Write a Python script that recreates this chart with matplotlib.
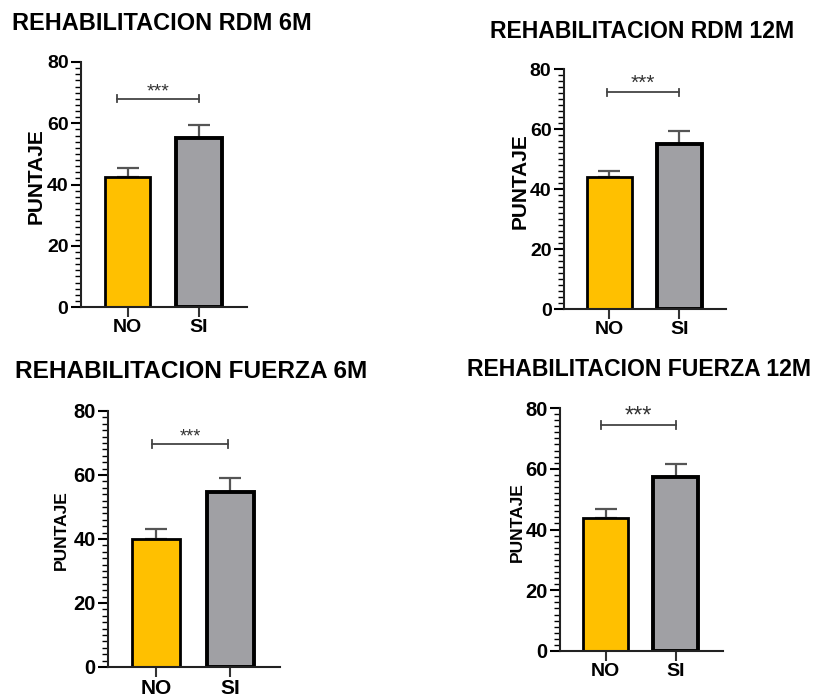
import matplotlib
matplotlib.use("Agg")
import matplotlib.pyplot as plt
from matplotlib.ticker import MultipleLocator

plt.rcParams['font.family'] = ['Liberation Sans', 'DejaVu Sans']

W, H = 818, 697

groups = ["NO", "SI"]
titles = ["REHABILITACION RDM 6M", "REHABILITACION RDM 12M",
          "REHABILITACION FUERZA 6M", "REHABILITACION FUERZA 12M"]
means_no = [42.5, 44.0, 40.0, 43.8]
means_si = [55.2, 55.0, 54.7, 57.3]
err_no = [2.9, 2.0, 3.1, 2.9]
err_si = [4.2, 4.3, 4.3, 4.3]
sig_y = [68, 72.3, 69.7, 74.4]
sig_text = ["***", "***", "***", "***"]

colors = ["#FFC000", "#A0A0A4"]

# panel layout in pixels: axes box (x0, y0, x1, y1), title pos, ylabel pos, font sizes
panels = [
    dict(box=(81, 62, 247, 307), title=(12, 24, 16.9), ylab=(36, 176, 15),
         tick=14, xtick=14, star=14, br=(-0.14, 1.0)),
    dict(box=(564, 69, 726, 309), title=(490, 32, 16.6), ylab=(520, 181, 15),
         tick=14, xtick=14, star=15, br=(-0.04, 1.0)),
    dict(box=(108, 411, 280, 667), title=(15, 372, 17.6), ylab=(61, 530, 12.5),
         tick=14.5, xtick=15, star=13, br=(-0.05, 0.97)),
    dict(box=(560, 408, 723, 651), title=(467, 370, 16.6), ylab=(517, 522, 12.5),
         tick=14.5, xtick=14, star=17, br=(-0.07, 1.0)),
]


def px_rect(x0, y0, x1, y1):
    return [x0 / W, 1 - y1 / H, (x1 - x0) / W, (y1 - y0) / H]


fig = plt.figure(figsize=(W / 100, H / 100), dpi=100)

for i, p in enumerate(panels):
    ax = fig.add_axes(px_rect(*p["box"]))
    xs = [0, 1]
    vals = [means_no[i], means_si[i]]
    errs = [err_no[i], err_si[i]]

    ax.errorbar(xs, vals, yerr=[[0, 0], errs], fmt="none", ecolor="#555555",
                elinewidth=1.6, capsize=8, capthick=1.6, zorder=1)
    bars = ax.bar(xs, vals, width=0.64, color=colors, edgecolor="black", zorder=2)
    bars[0].set_linewidth(2.0)
    bars[1].set_linewidth(2.8)

    # significance bracket
    b0, b1 = p["br"]
    ax.plot([b0, b1], [sig_y[i], sig_y[i]], color="#444444", lw=1.3)
    ax.plot([b0, b0], [sig_y[i] - 1.2, sig_y[i] + 1.2], color="#444444", lw=1.3)
    ax.plot([b1, b1], [sig_y[i] - 1.2, sig_y[i] + 1.2], color="#444444", lw=1.3)
    ax.annotate(sig_text[i], xy=((b0 + b1) / 2, sig_y[i]), xytext=(0, 2),
                textcoords="offset points", ha="center", va="baseline",
                fontsize=p["star"], color="#333333")

    ax.set_xlim(-0.65, 1.67)
    ax.set_ylim(0, 80)
    ax.set_xticks(xs)
    ax.set_xticklabels(groups, fontsize=p["xtick"], fontweight="bold")
    ax.set_yticks([0, 20, 40, 60, 80])
    ax.yaxis.set_minor_locator(MultipleLocator(2))
    for lab in ax.get_yticklabels():
        lab.set_fontsize(p["tick"])
        lab.set_fontweight("bold")
    ax.tick_params(which="major", length=7, width=1.5, direction="out", pad=2)
    ax.tick_params(axis="y", which="minor", length=4, width=1.0)
    ax.tick_params(axis="x", which="major", color="#333333")
    for s in ["top", "right"]:
        ax.spines[s].set_visible(False)
    for s in ["left", "bottom"]:
        ax.spines[s].set_linewidth(1.5)
        ax.spines[s].set_color("#222222")

    tx, ty, tfs = p["title"]
    fig.text(tx / W, 1 - ty / H, titles[i], ha="left", va="center",
             fontsize=tfs, fontweight="bold")
    lx, ly, lfs = p["ylab"]
    fig.text(lx / W, 1 - ly / H, "PUNTAJE", rotation=90,
             ha="center", va="center", fontsize=lfs, fontweight="bold")

fig.savefig("out.png", dpi=100)
